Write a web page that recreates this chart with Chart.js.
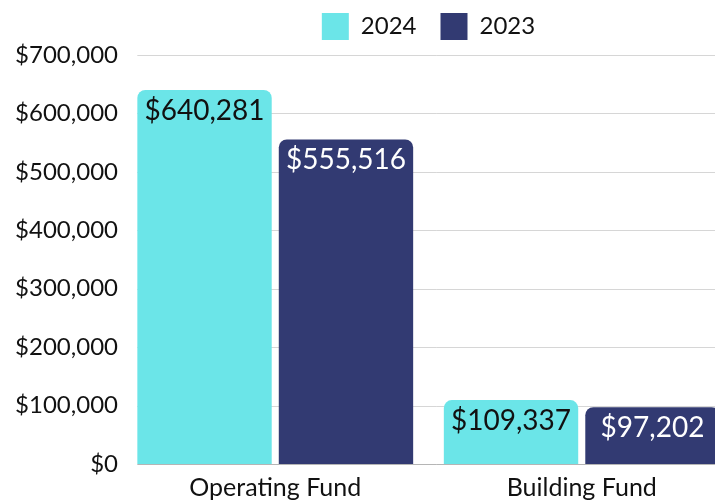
<!DOCTYPE html>
<html>
<head>
<meta charset="utf-8">
<script src="https://cdn.jsdelivr.net/npm/chart.js@4.4.1/dist/chart.umd.min.js"></script>
<style>
  html, body { margin: 0; padding: 0; background: #fff; overflow: hidden; }
  #wrap { width: 715px; height: 500px; overflow: hidden; position: relative; }
  #box { width: 750px; height: 515px; position: absolute; left: 0; top: -11px; }
</style>
</head>
<body>
<div id="wrap"><div id="box"><canvas id="chart"></canvas></div></div>
<script>
const categories = ['Operating Fund', 'Building Fund'];
const seriesNames = ['2024', '2023'];
const values2024 = [640281, 109337];
const values2023 = [555516, 97202];
const yTicks = [0, 100000, 200000, 300000, 400000, 500000, 600000, 700000];

const CYAN = '#6be5e8';
const NAVY = '#323a72';
const FONT = 'Lato, "Open Sans", sans-serif';

const money = v => '$' + v.toLocaleString('en-US');

// horizontal gridlines that start at the first bar, like the original
const gridFromBars = {
  id: 'gridFromBars',
  beforeDatasetsDraw(chart) {
    const ctx = chart.ctx;
    const y = chart.scales.y;
    const bar = chart.getDatasetMeta(0).data[0];
    const x0 = bar.x - bar.width / 2;
    ctx.save();
    ctx.lineWidth = 1;
    yTicks.forEach(t => {
      const py = Math.round(y.getPixelForValue(t)) + 0.5;
      ctx.strokeStyle = t === 0 ? '#b5b5b5' : '#d6d6d6';
      ctx.beginPath();
      ctx.moveTo(x0, py);
      ctx.lineTo(chart.chartArea.right, py);
      ctx.stroke();
    });
    ctx.restore();
  }
};

const barLabels = {
  id: 'barLabels',
  afterDatasetsDraw(chart) {
    const ctx = chart.ctx;
    ctx.save();
    ctx.font = '28px ' + FONT;
    ctx.textAlign = 'center';
    ctx.textBaseline = 'alphabetic';
    chart.data.datasets.forEach((ds, di) => {
      chart.getDatasetMeta(di).data.forEach((el, i) => {
        ctx.fillStyle = di === 0 ? '#111' : '#fff';
        ctx.fillText(money(ds.data[i]), el.x, el.y + 30);
      });
    });
    ctx.restore();
  }
};

const data = {
  labels: categories,
  datasets: [
    { label: seriesNames[0], data: values2024, backgroundColor: CYAN },
    { label: seriesNames[1], data: values2023, backgroundColor: NAVY }
  ]
};

const options = {
  responsive: true,
  maintainAspectRatio: false,
  animation: false,
  layout: { padding: { top: 0, right: 15, bottom: 0, left: 0 } },
  datasets: {
    bar: {
      categoryPercentage: 0.923,
      barPercentage: 0.95,
      borderRadius: { topLeft: 8, topRight: 8 },
      borderSkipped: 'start'
    }
  },
  plugins: {
    legend: {
      position: 'top',
      fullSize: false,
      labels: {
        boxWidth: 27,
        boxHeight: 27,
        padding: 24,
        color: '#111',
        font: { family: FONT, size: 24 }
      }
    },
    // empty spacer between legend and plot
    subtitle: {
      display: true,
      text: '',
      position: 'top',
      weight: 500,
      fullSize: false,
      padding: 0,
      font: { size: 5, lineHeight: 1 }
    },
    tooltip: { enabled: false }
  },
  scales: {
    x: {
      grid: { display: false },
      border: { display: false },
      ticks: { color: '#111', padding: 1, font: { family: FONT, size: 25 } }
    },
    y: {
      min: 0,
      max: 700000,
      afterFit(axis) { axis.width = 122; },
      afterBuildTicks(axis) { axis.ticks = yTicks.map(v => ({ value: v })); },
      grid: { display: false, drawTicks: false },
      border: { display: false },
      ticks: {
        color: '#111',
        padding: 4,
        font: { family: FONT, size: 24 },
        callback: v => money(v)
      }
    }
  }
};

new Chart(document.getElementById('chart'), {
  type: 'bar',
  data: data,
  options: options,
  plugins: [gridFromBars, barLabels]
});
</script>
</body>
</html>
